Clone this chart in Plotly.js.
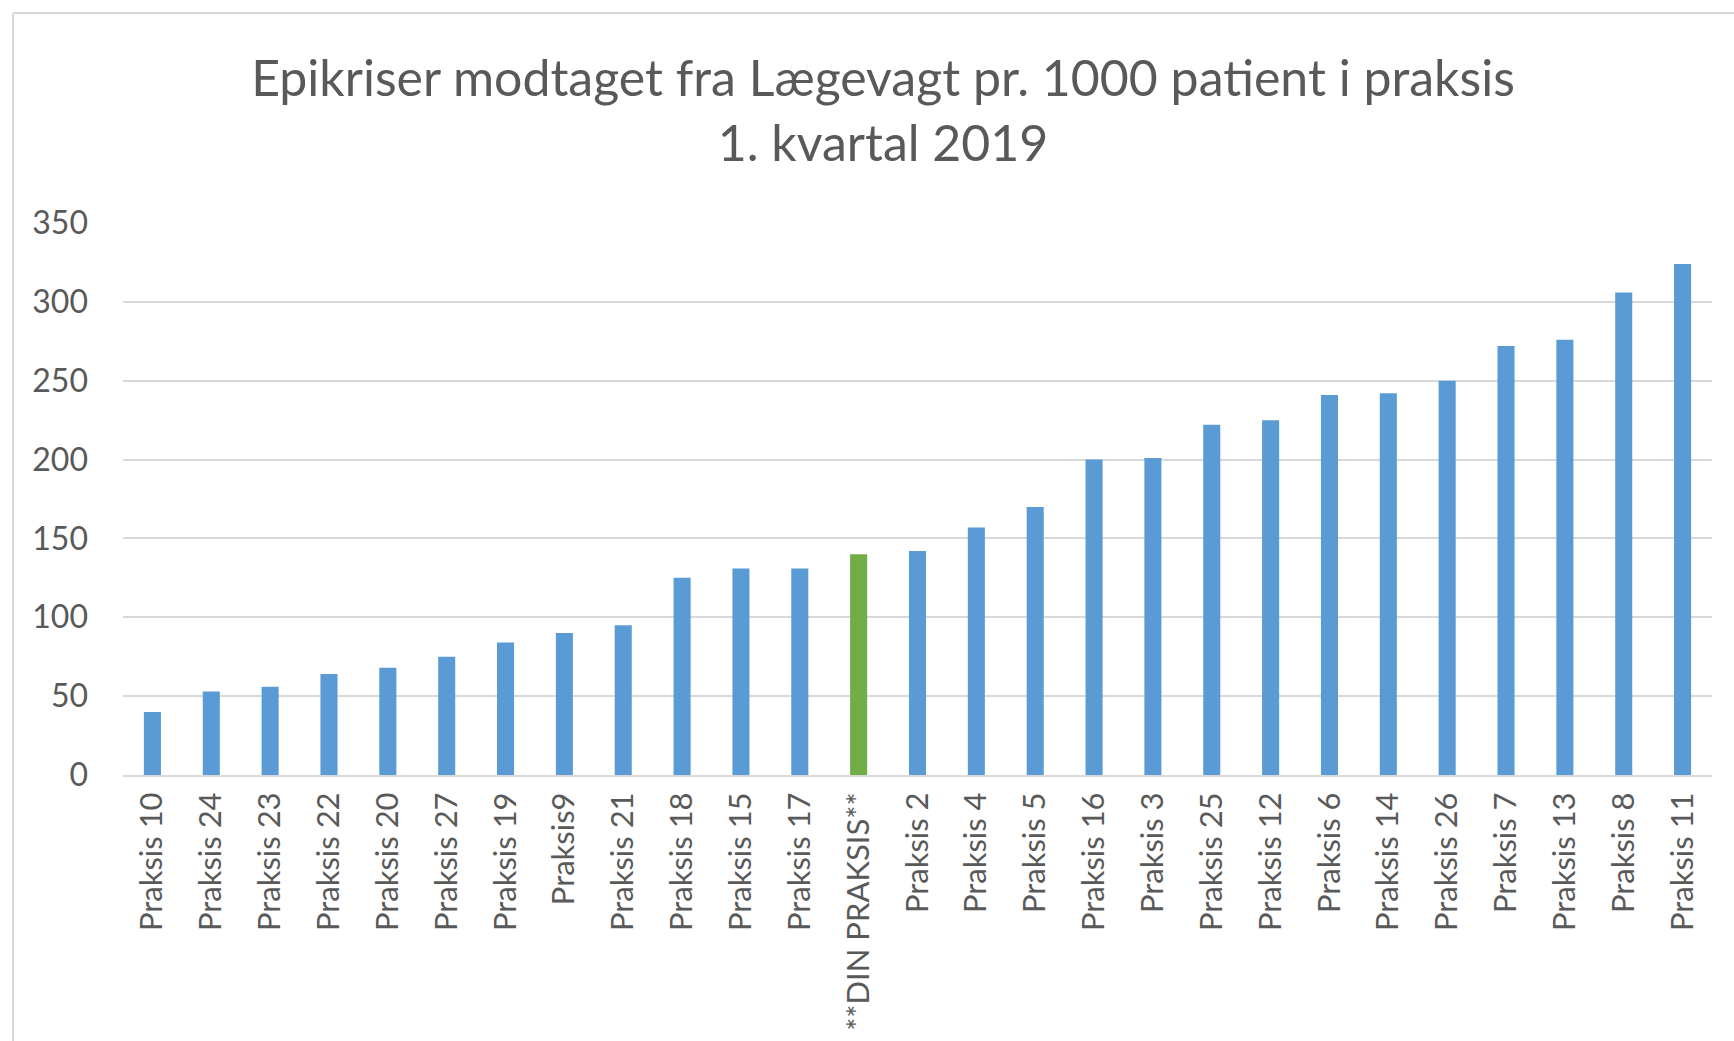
<!DOCTYPE html>
<html>
<head>
<meta charset="utf-8">
<script src="https://cdn.plot.ly/plotly-3.0.1.min.js"></script>
<style>
  html, body { margin: 0; padding: 0; background: #ffffff; }
  #chart { width: 1734px; height: 1041px; }
</style>
</head>
<body>
<div id="chart"></div>
<script>
const categories = [
  "Praksis 10", "Praksis 24", "Praksis 23", "Praksis 22", "Praksis 20", "Praksis 27",
  "Praksis 19", "Praksis9", "Praksis 21", "Praksis 18", "Praksis 15", "Praksis 17",
  "**DIN PRAKSIS**", "Praksis 2", "Praksis 4", "Praksis 5", "Praksis 16", "Praksis 3",
  "Praksis 25", "Praksis 12", "Praksis 6", "Praksis 14", "Praksis 26", "Praksis 7",
  "Praksis 13", "Praksis 8", "Praksis 11"
];
const values = [
  40, 53, 56, 64, 68, 75,
  84, 90, 95, 125, 131, 131,
  140, 142, 157, 170, 200, 201,
  222, 225, 241, 242, 250, 272,
  276, 306, 324
];
const highlightCategory = "**DIN PRAKSIS**";
const yTicks = [0, 50, 100, 150, 200, 250, 300, 350];
const titleLines = ["Epikriser modtaget fra Lægevagt pr. 1000 patient i praksis", "1. kvartal 2019"];

const W = 1734, H = 1041;
const margin = { l: 123, r: 22, t: 223, b: 266 };
const plotW = W - margin.l - margin.r;
const plotH = H - margin.t - margin.b;
const px2x = p => (p - margin.l) / plotW;
const px2y = p => (H - margin.b - p) / plotH;

const barColors = categories.map(c => c === highlightCategory ? "#70ad47" : "#5b9bd5");

const trace = {
  type: "bar",
  x: categories,
  y: values,
  marker: { color: barColors },
  hoverinfo: "x+y"
};

const layout = {
  width: W,
  height: H,
  margin: margin,
  paper_bgcolor: "#ffffff",
  plot_bgcolor: "#ffffff",
  font: { family: "Lato, 'Open Sans', sans-serif", color: "#595959" },
  title: {
    text: titleLines.join("<br>"),
    font: { family: "Lato, sans-serif", size: 50, color: "#595959" },
    xref: "container",
    x: 883 / W,
    xanchor: "center",
    yref: "container",
    y: 1 - 96 / H,
    yanchor: "top"
  },
  bargap: 0.71,
  showlegend: false,
  xaxis: {
    type: "category",
    tickangle: -90,
    tickfont: { family: "Lato, sans-serif", size: 31, color: "#595959" },
    showline: true,
    linecolor: "#d9d9d9",
    linewidth: 2,
    showgrid: false,
    ticks: "",
    ticklabelstandoff: 3,
    automargin: false
  },
  yaxis: {
    range: [0, 350],
    tickvals: yTicks,
    ticktext: yTicks.map(String),
    tickfont: { family: "Lato, sans-serif", size: 32, color: "#595959" },
    showgrid: true,
    gridcolor: "#d9d9d9",
    gridwidth: 2,
    zeroline: false,
    showline: false,
    ticks: "",
    ticklabelstandoff: 34,
    automargin: false,
    fixedrange: true
  },
  shapes: [
    { type: "line", xref: "paper", yref: "paper",
      x0: px2x(13), x1: px2x(13), y0: px2y(H + 5), y1: px2y(13),
      line: { color: "#d9d9d9", width: 2 } },
    { type: "line", xref: "paper", yref: "paper",
      x0: px2x(13), x1: px2x(W + 5), y0: px2y(13), y1: px2y(13),
      line: { color: "#d9d9d9", width: 2 } }
  ]
};

Plotly.newPlot("chart", [trace], layout, { displayModeBar: false, staticPlot: false });
</script>
</body>
</html>
